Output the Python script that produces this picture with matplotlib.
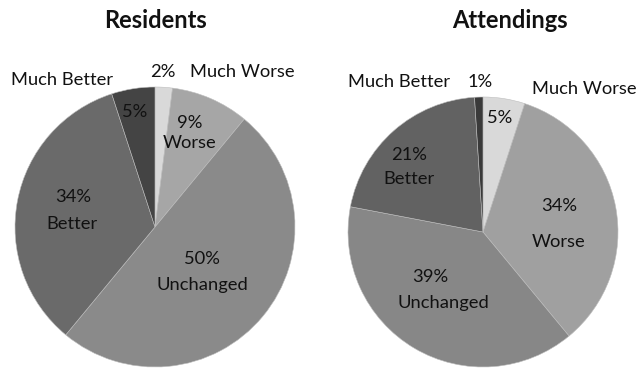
import matplotlib
matplotlib.use("Agg")
import matplotlib.pyplot as plt

# Survey shares, clockwise from 12 o'clock
categories = ["Much Worse", "Worse", "Unchanged", "Better", "Much Better"]
residents = [2, 9, 50, 34, 5]
attendings = [5, 34, 39, 21, 1]

colors_res = ["#d9d9d9", "#a6a6a6", "#8a8a8a", "#6a6a6a", "#444444"]
colors_att = ["#d9d9d9", "#a0a0a0", "#878787", "#626262", "#3a3a3a"]

plt.rcParams["font.family"] = ["Lato", "DejaVu Sans"]

W, H = 638, 370
fig = plt.figure(figsize=(W / 100, H / 100), dpi=100)
ax = fig.add_axes([0, 0, 1, 1])


def draw_pie(values, colors, cx, cy, r):
    ax.pie(values, colors=colors, startangle=90, counterclock=False,
           center=(cx, cy), radius=r, frame=True,
           wedgeprops=dict(edgecolor="#bdbdbd", linewidth=0.4))


draw_pie(residents, colors_res, 155, H - 227, 140)
draw_pie(attendings, colors_att, 483, H - 232, 135)
ax.set_xlim(0, W)
ax.set_ylim(0, H)
ax.set_aspect("equal")
ax.axis("off")


def txt(x, y, s, size=13.2, **kw):
    ax.text(x, H - y, s, ha="center", va="center", fontsize=size,
            color="#111111", **kw)


# titles
txt(155, 20, "Residents", size=17, fontweight="bold")
txt(510, 20, "Attendings", size=17, fontweight="bold")

# Residents labels (pixel positions)
res_labels = [
    (163, 72, "{}%".format(residents[0])),
    (242, 72, categories[0]),
    (62, 80, categories[4]),
    (135, 112, "{}%".format(residents[4])),
    (190, 123, "{}%".format(residents[1])),
    (190, 143, categories[1]),
    (73, 197, "{}%".format(residents[3])),
    (72, 224, categories[3]),
    (202, 259, "{}%".format(residents[2])),
    (202, 285, categories[2]),
]
for x, y, s in res_labels:
    txt(x, y, s)

# Attendings labels
att_labels = [
    (399, 82, categories[4]),
    (480, 82, "{}%".format(attendings[4])),
    (584, 89, categories[0]),
    (500, 118, "{}%".format(attendings[0])),
    (409, 155, "{}%".format(attendings[3])),
    (409, 179, categories[3]),
    (559, 206, "{}%".format(attendings[1])),
    (559, 242, categories[1]),
    (430, 277, "{}%".format(attendings[2])),
    (443, 303, categories[2]),
]
for x, y, s in att_labels:
    txt(x, y, s)

fig.savefig("out.png", dpi=100, facecolor="white")
